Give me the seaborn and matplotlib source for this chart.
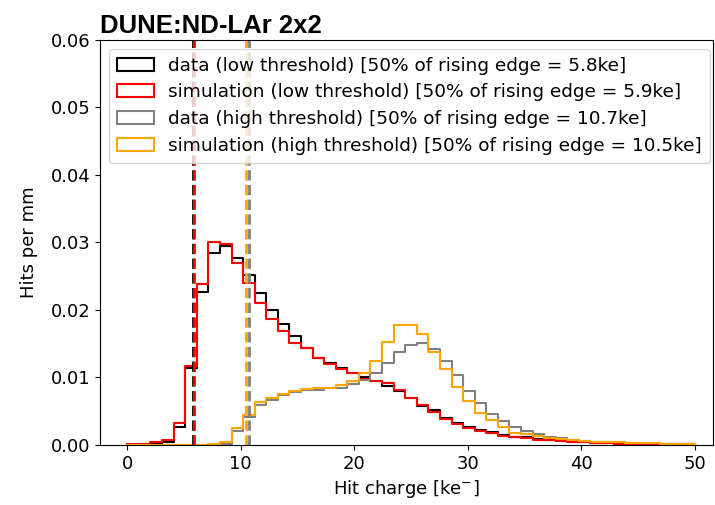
import numpy as np
import pandas as pd
import seaborn as sns
import matplotlib.pyplot as plt
import matplotlib.patches as mpatches

# binning of the hit charge histograms (ke-)
n_bins = 49
charge_range = (0, 50)

# hits per mm in each bin
data_low = [0.00005, 0.0001, 0.0002, 0.0004, 0.0027, 0.0114, 0.0227, 0.0285, 0.0294, 0.0277,
            0.0252, 0.0225, 0.0200, 0.0179, 0.0162, 0.0144, 0.0129, 0.0121, 0.0114, 0.0106,
            0.0100, 0.0095, 0.0087, 0.0080, 0.0069, 0.0058, 0.0051, 0.0040, 0.0033, 0.0026,
            0.0022, 0.0019, 0.0015, 0.0012, 0.0011, 0.0009, 0.0007, 0.0006, 0.0005, 0.0004,
            0.0003, 0.0003, 0.0002, 0.0002, 0.0002, 0.0001, 0.0001, 0.0001, 0.0001]
sim_low = [0.0001, 0.0002, 0.0004, 0.0007, 0.0032, 0.0117, 0.0238, 0.0300, 0.0297, 0.0270,
           0.0240, 0.0210, 0.0186, 0.0169, 0.0151, 0.0143, 0.0129, 0.0120, 0.0113, 0.0106,
           0.0098, 0.0094, 0.0091, 0.0081, 0.0069, 0.0059, 0.0049, 0.0038, 0.0031, 0.0025,
           0.0021, 0.0017, 0.0013, 0.0011, 0.0010, 0.0008, 0.0007, 0.0006, 0.0005, 0.0004,
           0.0003, 0.0003, 0.0002, 0.0002, 0.0002, 0.0001, 0.0001, 0.0001, 0.0001]
data_high = [0.0, 0.0, 0.0, 0.0, 0.0, 0.0, 0.0, 0.00002, 0.0002, 0.0020,
             0.0042, 0.0059, 0.0067, 0.0074, 0.0078, 0.0081, 0.0082, 0.0084, 0.0085, 0.0090,
             0.0096, 0.0107, 0.0122, 0.0137, 0.0148, 0.0151, 0.0142, 0.0125, 0.0104, 0.0080,
             0.0062, 0.0046, 0.0035, 0.0026, 0.0020, 0.0016, 0.0012, 0.0010, 0.0007, 0.0006,
             0.0005, 0.0004, 0.0004, 0.0003, 0.0003, 0.0003, 0.0002, 0.0002, 0.0002]
sim_high = [0.00002, 0.00002, 0.00002, 0.00002, 0.00002, 0.00002, 0.00003, 0.0001, 0.0005, 0.0025,
            0.0045, 0.0063, 0.0069, 0.0075, 0.0080, 0.0083, 0.0084, 0.0085, 0.0089, 0.0094,
            0.0106, 0.0124, 0.0152, 0.0177, 0.0178, 0.0165, 0.0138, 0.0113, 0.0086, 0.0065,
            0.0048, 0.0037, 0.0027, 0.0018, 0.0016, 0.0013, 0.0010, 0.0009, 0.0007, 0.0006,
            0.0005, 0.0004, 0.0004, 0.0003, 0.0003, 0.0003, 0.0002, 0.0002, 0.0002]

# 50% of rising edge (ke-)
thresholds = [5.8, 5.9, 10.7, 10.5]
labels = ['data (low threshold)', 'simulation (low threshold)',
          'data (high threshold)', 'simulation (high threshold)']
colors = ['black', 'red', 'grey', 'orange']

edges = np.linspace(charge_range[0], charge_range[1], n_bins + 1)
centers = (edges[:-1] + edges[1:]) / 2
df = pd.DataFrame({'charge': centers, labels[0]: data_low, labels[1]: sim_low,
                   labels[2]: data_high, labels[3]: sim_high})

fig = plt.figure(figsize=(7.15, 5.05), dpi=100)
ax = fig.add_axes([0.14, 0.119, 0.857, 0.802])

handles = []
for lab, col, thr in zip(labels, colors, thresholds):
    sns.histplot(data=df, x='charge', weights=lab, bins=n_bins, binrange=charge_range,
                 element='step', fill=False, color=col, linewidth=1.5, ax=ax)
    handles.append(mpatches.Patch(facecolor='none', edgecolor=col, linewidth=1.5,
                                  label=f'{lab} [50% of rising edge = {thr}ke]'))
for col, thr in zip(colors, thresholds):
    ax.axvline(thr, color=col, linestyle='--', linewidth=2)

ax.set_xlim(-2.4, 51.6)
ax.set_ylim(0, 0.06)
ax.set_xticks(np.arange(0, 51, 10))
ax.tick_params(labelsize=13)
ax.set_xlabel('Hit charge [ke$^{-}$]', fontsize=13)
ax.set_ylabel('Hits per mm', fontsize=13, labelpad=9)
ax.set_title('DUNE:ND-LAr 2x2', loc='left', fontsize=18.5, fontweight='bold',
             family='Liberation Sans', pad=5)
ax.legend(handles=handles, loc='upper left', fontsize=13.3, labelspacing=0.48)

fig.savefig('out.png', dpi=100)
